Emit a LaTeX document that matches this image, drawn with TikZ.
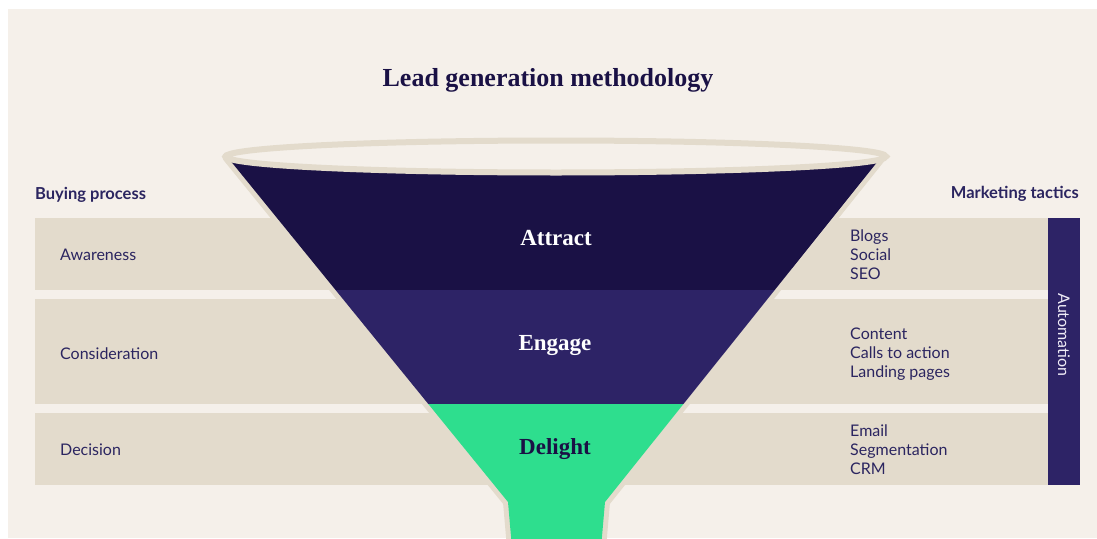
\documentclass[tikz,border=0pt]{standalone}
\usepackage{fontspec}
\setmainfont{Liberation Serif}
\newfontfamily\labelfont{Lato}
\definecolor{pagebg}{HTML}{F5F0EA}
\definecolor{bandc}{HTML}{E3DBCC}
\definecolor{navy}{HTML}{1A1145}
\definecolor{engagec}{HTML}{2D2366}
\definecolor{mint}{HTML}{2EDE8E}
\definecolor{inkc}{HTML}{2B2560}
\definecolor{paletxt}{HTML}{F0EDF7}
\tikzset{
  band/.style={fill=bandc},
  stagelabel/.style={font=\fontsize{23}{26}\selectfont\bfseries, inner sep=0pt, anchor=base},
  leftlabel/.style={font=\labelfont\fontsize{16}{19}\selectfont, text=inkc, inner sep=0pt, anchor=base west},
  tactics/.style={font=\labelfont\fontsize{16}{19}\selectfont, text=inkc, inner sep=0pt, anchor=base west, align=left},
  heading/.style={font=\labelfont\bfseries\fontsize{16.5}{19}\selectfont, text=inkc, inner sep=0pt},
}
\begin{document}
\begin{tikzpicture}[x=1pt,y=-1pt]
\useasboundingbox (0,0) rectangle (1097,538);
\fill[white] (0,0) rectangle (1097,538);
\fill[pagebg] (8,9) rectangle (1097,538);

% title
\node[font=\fontsize{26}{30}\selectfont\bfseries, text=navy, inner sep=0pt, anchor=base] (title) at (548,86.7) {Lead generation methodology};

% column headings
\node[heading, anchor=base west] (buying) at (35,199.3) {Buying process};
\node[heading, anchor=base east] (marketing) at (1079,198.3) {Marketing tactics};

% horizontal bands behind the funnel
\path[band] (35,218) rectangle (1048,290);
\path[band] (35,299) rectangle (1048,404);
\path[band] (35,413) rectangle (1048,485);

% automation bar
\fill[engagec] (1048,218) rectangle (1080,485);
\node[font=\labelfont\fontsize{16}{19}\selectfont, text=paletxt, rotate=-90, inner sep=0pt] (automation) at (1064,335) {Automation};

% funnel outline
\coordinate (ftl) at (227.4,157);
\coordinate (fnl) at (508,502);
\coordinate (fbl) at (512,548);
\coordinate (fbr) at (601,548);
\coordinate (fnr) at (605,502);
\coordinate (ftr) at (881.2,157);
\draw[bandc, line width=10, line join=round] (ftl) -- (fnl) -- (fbl) -- (fbr) -- (fnr) -- (ftr) -- cycle;
\begin{scope}
  \clip (ftl) -- (fnl) -- (fbl) -- (fbr) -- (fnr) -- (ftr) -- cycle;
  \fill[navy] (200,140) rectangle (900,290);
  \fill[engagec] (200,290) rectangle (900,404);
  \fill[mint] (200,404) rectangle (900,550);
\end{scope}

% funnel rim
\draw[fill=pagebg, draw=bandc, line width=6] (556,156.5) ellipse [x radius=330, y radius=16];

% stage names
\node[stagelabel, text=white] (attract) at (556,245) {Attract};
\node[stagelabel, text=white] (engage) at (555,350) {Engage};
\node[stagelabel, text=navy] (delight) at (555,454) {Delight};

% buying process stages
\node[leftlabel] (awareness) at (60,260.3) {Awareness};
\node[leftlabel] (consideration) at (60,359) {Consideration};
\node[leftlabel] (decision) at (60,455.3) {Decision};

% tactics lists (anchored at the baseline of their last line)
\node[tactics] (tact1) at (850,279) {Blogs\\Social\\SEO};
\node[tactics] (tact2) at (850,377.3) {Content\\Calls to action\\Landing pages};
\node[tactics] (tact3) at (850,474) {Email\\Segmentation\\CRM};
\end{tikzpicture}
\end{document}
